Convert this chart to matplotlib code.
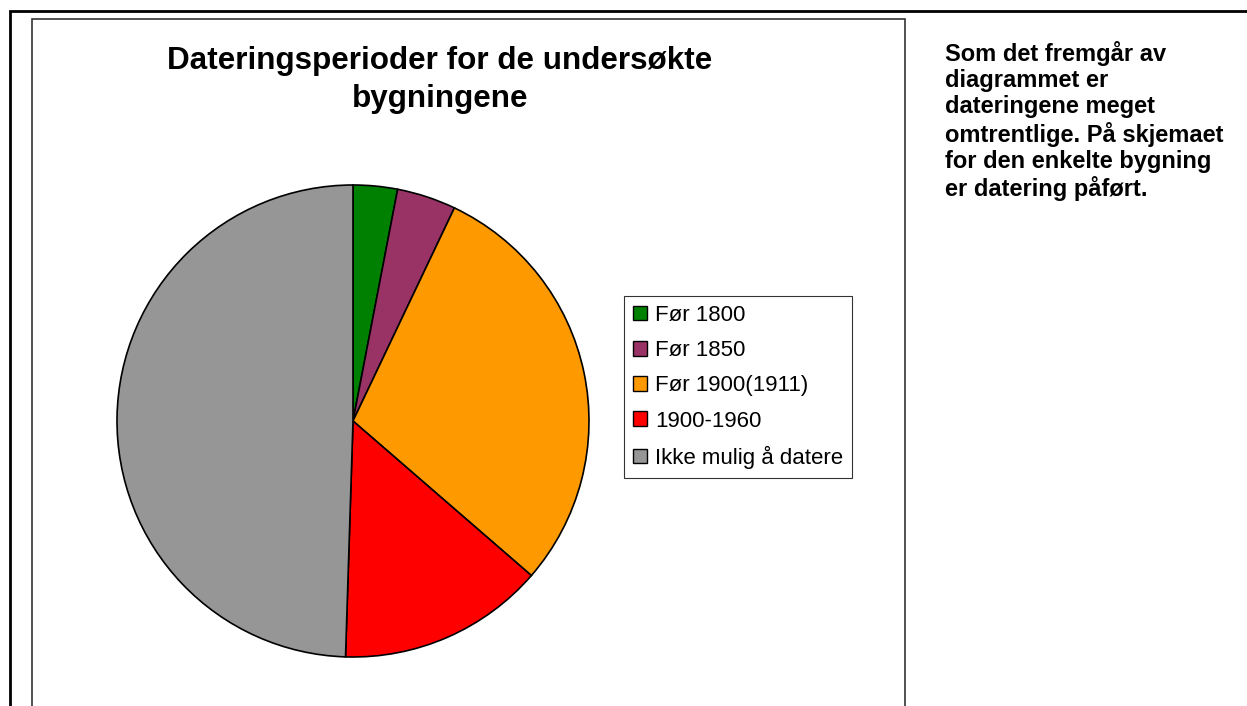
import matplotlib.pyplot as plt
from matplotlib.patches import Rectangle, Patch

# Dateringsperioder (antall bygninger, lest av diagrammet)
labels = ["Før 1800", "Før 1850", "Før 1900(1911)", "1900-1960", "Ikke mulig å datere"]
counts = [3, 4, 29, 14, 49]
colors = ["#008000", "#993366", "#FF9900", "#FF0000", "#969696"]

title = "Dateringsperioder for de undersøkte\nbygningene"
note = ("Som det fremgår av\ndiagrammet er\ndateringene meget\n"
        "omtrentlige. På skjemaet\nfor den enkelte bygning\ner datering påført.")

plt.rcParams['font.family'] = ['Liberation Sans', 'DejaVu Sans']

W, H = 1247, 706
fig = plt.figure(figsize=(W / 100, H / 100), dpi=100)

def fx(px):
    return px / W

def fy(py):
    return 1 - py / H

# outer frame and chart frame
fig.patches.append(Rectangle((fx(10), fy(720)), fx(1260), 709 / H, transform=fig.transFigure,
                             fill=False, edgecolor="black", linewidth=2))
fig.patches.append(Rectangle((fx(32), fy(720)), fx(873), 701 / H, transform=fig.transFigure,
                             fill=False, edgecolor="#333333", linewidth=1.2))

# pie
cx, cy, r = 353, 421, 236
ax = fig.add_axes([fx(cx - r), fy(cy + r), fx(2 * r), 2 * r / H])
ax.pie(counts, colors=colors, startangle=90, counterclock=False,
       wedgeprops={"edgecolor": "black", "linewidth": 1.2})
ax.set_xlim(-1.0, 1.0)
ax.set_ylim(-1.0, 1.0)
ax.axis("off")

fig.text(fx(440), fy(80), title, ha="center", va="center", fontsize=22.6,
         fontweight="bold", linespacing=1.38)

fig.text(fx(945), fy(41), note, ha="left", va="top", fontsize=17,
         fontweight="bold", linespacing=1.17)

handles = [Patch(facecolor=c, edgecolor="black", linewidth=1) for c in colors]
leg = fig.legend(handles, labels, loc="upper left",
                 bbox_to_anchor=(fx(624), fy(296)), fontsize=16,
                 frameon=True, fancybox=False, edgecolor="black",
                 handlelength=0.63, handleheight=0.63, handletextpad=0.36,
                 labelspacing=0.64, borderpad=0.4, borderaxespad=0)
leg.get_frame().set_linewidth(0.8)

fig.savefig("out.png", dpi=100)
